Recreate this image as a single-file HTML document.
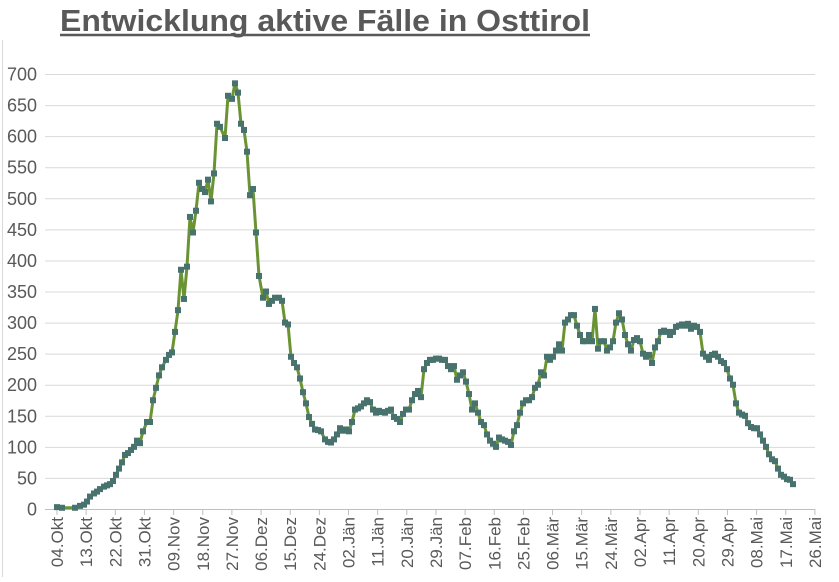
<!DOCTYPE html>
<html><head><meta charset="utf-8"><style>
body{margin:0;background:#fff;width:839px;height:577px;overflow:hidden;font-family:"Liberation Sans",sans-serif}
</style></head><body>
<svg width="839" height="577" xmlns="http://www.w3.org/2000/svg" font-family="Liberation Sans, sans-serif">
<line x1="2.5" y1="40" x2="2.5" y2="577" stroke="#d9d9d9"/>
<text x="60" y="31" font-size="31" font-weight="bold" fill="#595959" textLength="530" lengthAdjust="spacingAndGlyphs">Entwicklung aktive Fälle in Osttirol</text>
<line x1="60" y1="35" x2="590" y2="35" stroke="#595959" stroke-width="2.5"/>
<g id="grid" stroke="#d9d9d9" stroke-width="1"></g>
<g id="ylab" font-size="18" fill="#595959" text-anchor="end"></g>
<g id="xlab" font-size="17" fill="#595959"></g>
<polyline id="line" fill="none" stroke="#6a9433" stroke-width="3" stroke-linejoin="round"/>
<g id="mk" fill="#48726e"></g>
</svg>
<script>
var ns="http://www.w3.org/2000/svg";
function el(t,a,p){var e=document.createElementNS(ns,t);for(var k in a)e.setAttribute(k,a[k]);document.getElementById(p).appendChild(e);return e;}
function Y(v){return 509-v*0.6214;}
for(var v=0;v<=700;v+=50){var y=Y(v);el('line',{x1:45,x2:815,y1:y+0.5,y2:y+0.5},'grid');var t=el('text',{x:37,y:y+6.5},'ylab');t.textContent=v;}
el('line',{x1:45,x2:815,y1:509.5,y2:509.5,stroke:'#bfbfbf'},'grid');
var labs=["04.Okt","13.Okt","22.Okt","31.Okt","09.Nov","18.Nov","27.Nov","06.Dez","15.Dez","24.Dez","02.Jän","11.Jän","20.Jän","29.Jän","07.Feb","16.Feb","25.Feb","06.Mär","15.Mär","24.Mär","02.Apr","11.Apr","20.Apr","29.Apr","08.Mai","17.Mai","26.Mai"];
labs.forEach(function(l,i){var x=57+i*29.15;el('line',{x1:x,x2:x,y1:509,y2:515,stroke:'#bfbfbf'},'grid');var t=el('text',{x:0,y:0,'text-anchor':'end',transform:'translate('+(x+6)+',517) rotate(-90)'},'xlab');t.textContent=l;});
var d=[57,3,62,2,75,2,80,5,84,7,87,12,90,20,94,25,97,28,100,32,104,36,107,38,110,40,113,45,116,55,119,65,122,75,125,87,128,90,131,95,134,100,137,110,140,106,143,125,147,140,150,140,153,175,156,195,159,215,162,228,166,240,169,248,172,252,175,285,178,320,181,385,184,338,187,390,190,470,193,445,196,480,199,525,202,515,205,510,208,530,211,495,214,540,217,620,220,615,225,597,228,665,232,660,235,685,238,670,241,620,244,610,247,575,250,505,253,515,256,445,259,375,263,340,266,350,269,330,272,335,275,340,279,340,282,335,285,300,288,297,291,245,294,235,297,228,300,210,303,188,306,170,309,148,312,137,315,128,318,127,321,125,325,112,328,108,331,107,334,112,337,120,340,130,343,126,346,128,349,125,352,140,355,160,358,162,361,165,364,170,367,175,370,172,373,160,376,155,379,158,382,156,385,155,388,158,391,160,394,148,397,145,400,140,403,153,406,160,409,160,412,175,415,185,418,190,421,180,424,225,427,235,430,240,433,240,436,242,439,242,442,240,445,240,448,230,451,225,454,230,457,208,460,215,463,220,466,205,469,185,472,160,475,170,478,155,481,140,484,135,487,120,490,110,493,105,496,100,499,115,502,112,505,110,508,108,511,103,514,125,517,135,520,155,523,170,526,175,529,175,532,180,535,195,538,200,541,220,544,215,547,245,550,240,553,245,556,255,559,265,562,255,565,300,568,305,571,312,574,312,577,295,580,280,583,270,586,270,589,280,592,270,595,322,598,258,601,270,604,270,607,255,610,260,613,270,616,300,619,315,622,305,625,280,628,265,631,255,634,272,637,275,640,270,643,250,646,245,649,248,652,235,655,260,658,270,661,285,664,287,667,285,670,280,673,285,676,293,679,295,682,297,685,295,688,298,691,290,694,295,697,293,700,285,703,250,706,245,709,240,712,248,715,250,718,245,721,238,724,235,727,225,730,210,733,200,736,170,739,155,742,152,745,150,748,138,751,132,754,130,757,130,760,120,763,110,766,100,769,88,772,80,775,77,778,65,781,55,784,52,787,48,790,47,793,40];
var pts=[];
for(var i=0;i<d.length;i+=2){var x=d[i],y=Y(d[i+1]);pts.push(x+','+y.toFixed(1));el('rect',{x:x-3,y:y-3,width:6,height:6},'mk');}
document.getElementById('line').setAttribute('points',pts.join(' '));
</script>
</body></html>
